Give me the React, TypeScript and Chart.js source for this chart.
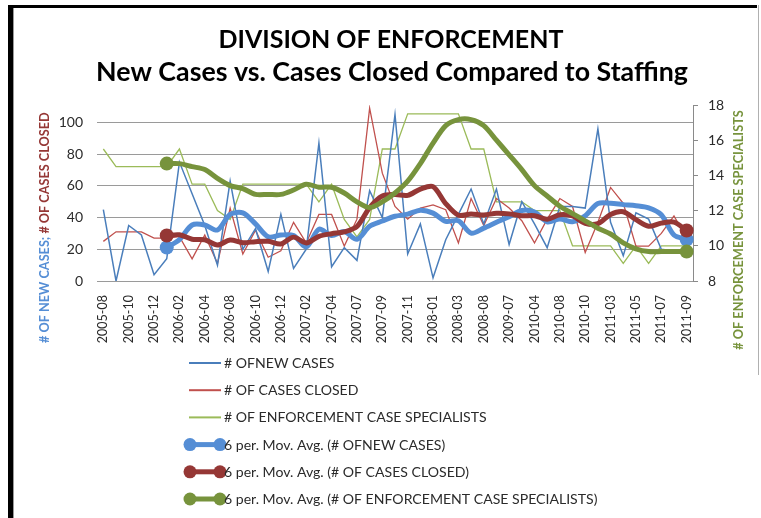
import { useEffect, useRef } from 'react';
import { Chart, registerables } from 'chart.js';

Chart.register(...registerables);

// ---- data ----
const categories = [
  '2005-08', '2005-09', '2005-10', '2005-11', '2005-12', '2006-01', '2006-02', '2006-03',
  '2006-04', '2006-06', '2006-08', '2006-09', '2006-10', '2006-11', '2006-12', '2007-01',
  '2007-02', '2007-03', '2007-04', '2007-05', '2007-07', '2007-08', '2007-09', '2007-10',
  '2007-11', '2007-12', '2008-01', '2008-02', '2008-03', '2008-05', '2008-08', '2009-01',
  '2009-07', '2010-01', '2010-04', '2010-06', '2010-08', '2010-09', '2010-10', '2011-01',
  '2011-03', '2011-04', '2011-05', '2011-06', '2011-07', '2011-08', '2011-09',
];

const newCases = [
  45, 0, 35, 29, 4, 14, 75, 55, 35, 10, 63, 20, 33, 6, 42, 8,
  20, 87, 9, 21, 13, 57, 40, 105, 17, 36, 2, 26, 42, 58, 36, 58,
  23, 50, 36, 21, 47, 47, 46, 96, 37, 16, 43, 39, 20, 19, 20,
];

const casesClosed = [
  25, 31, 31, 31, 27, 27, 28, 14, 29, 11, 46, 17, 32, 15, 19, 37,
  24, 42, 42, 22, 39, 109, 68, 47, 39, 46, 48, 45, 24, 52, 35, 52,
  46, 38, 24, 39, 52, 47, 18, 37, 59, 49, 22, 22, 30, 41, 27,
];

const specialists = [
  15.5, 14.5, 14.5, 14.5, 14.5, 14.5, 15.5, 13.5, 13.5, 12, 11.5, 13.5, 13.5, 13.5, 13.5, 13.5,
  13.5, 12.5, 13.5, 11.5, 10.5, 11.5, 15.5, 15.5, 17.5, 17.5, 17.5, 17.5, 17.5, 15.5, 15.5, 12.5,
  12.5, 12.5, 12, 12, 12, 10, 10, 10, 10, 9, 10, 9, 10, 10, 10,
];

// 6-period moving average trendlines (values as shown in the chart)
const newCasesAvg6 = [
  null, null, null, null, null, 21.17, 26.17, 35.33, 35.33, 32.17, 42, 43, 36, 27.83, 29, 28.67,
  21.5, 32.67, 28.67, 31.17, 26.33, 34.5, 37.83, 40.83, 42.17, 44.67, 42.83, 37.67, 38, 30.17, 33.33, 37,
  40.5, 44.5, 43.5, 37.33, 39.17, 37.33, 41.17, 48.83, 49, 48.17, 47.5, 46.17, 41.83, 29, 26.17,
];

const casesClosedAvg6 = [
  null, null, null, null, null, 28.67, 29.17, 26.33, 26, 22.67, 25.83, 24.17, 24.83, 25, 23.33, 27.67,
  24, 28.17, 29.83, 31, 34.33, 46.33, 53.67, 54.5, 54, 58, 59.5, 48.83, 41.5, 42.33, 41.67, 42.67,
  42.33, 41.17, 41.17, 39, 41.83, 41, 36.33, 36.17, 42, 43.67, 38.67, 34.5, 36.5, 37.17, 31.83,
];

const specialistsAvg6 = [
  null, null, null, null, null, 14.67, 14.67, 14.5, 14.33, 13.83, 13.42, 13.25, 12.92, 12.92, 12.92, 13.17,
  13.5, 13.33, 13.33, 13, 12.5, 12.17, 12.5, 13, 13.67, 14.67, 15.83, 16.83, 17.17, 17.17, 16.83, 16,
  15.17, 14.33, 13.42, 12.83, 12.25, 11.83, 11.42, 11, 10.67, 10.17, 9.83, 9.67, 9.67, 9.67, 9.67,
];

const leftTicks = [0, 20, 40, 60, 80, 100];
const rightMin = 8;
const rightMax = 18;

const seriesLabels = [
  '# OFNEW CASES',
  '# OF CASES CLOSED',
  '# OF ENFORCEMENT CASE SPECIALISTS',
  '6 per. Mov. Avg. (# OFNEW CASES)',
  '6 per. Mov. Avg. (# OF CASES CLOSED)',
  '6 per. Mov. Avg. (# OF ENFORCEMENT CASE SPECIALISTS)',
];

const titleLines = ['DIVISION OF ENFORCEMENT', 'New Cases vs. Cases Closed Compared to Staffing'];
const leftTitleParts = ['# OF NEW CASES;', ' # OF CASES CLOSED'];
const rightTitle = '# OF ENFORCEMENT CASE SPECIALISTS';

// ---- styles ----
const FONT = "Lato, 'Open Sans', 'Liberation Sans', sans-serif";
const C_BLUE = '#4A7EBB';
const C_RED = '#C0504D';
const C_GREEN = '#9BBB59';
const C_BLUE_MA = '#558ED5';
const C_RED_MA = '#953735';
const C_GREEN_MA = '#77933C';
const TEXT = '#2b2b2b';

const fitSize = (ctx: CanvasRenderingContext2D, text: string, weight: string, target: number, max: number) => {
  ctx.font = `${weight} 100px ${FONT}`;
  const w = ctx.measureText(text).width;
  return Math.min(max, (100 * target) / w);
};

const overlayPlugin = {
  id: 'overlay',
  beforeDraw(chart: any) {
    const ctx = chart.ctx as CanvasRenderingContext2D;
    ctx.save();
    ctx.fillStyle = '#ffffff';
    ctx.fillRect(0, 0, chart.width, chart.height);
    ctx.restore();
  },
  afterDraw(chart: any) {
    const ctx = chart.ctx as CanvasRenderingContext2D;
    ctx.save();

    // frame
    ctx.fillStyle = '#000000';
    ctx.fillRect(8, 5, 749, 3);
    ctx.fillRect(8, 5, 5, chart.height - 5);
    ctx.fillStyle = '#9a9a9a';
    ctx.fillRect(13, 8, 1, chart.height - 8);
    ctx.strokeStyle = '#b0b0b0';
    ctx.lineWidth = 1;
    ctx.beginPath();
    ctx.moveTo(758.5, 5);
    ctx.lineTo(758.5, 375);
    ctx.stroke();

    // title
    ctx.fillStyle = '#000000';
    ctx.textAlign = 'center';
    ctx.textBaseline = 'middle';
    const t1 = fitSize(ctx, titleLines[0], 'bold', 345, 30);
    ctx.font = `bold ${t1}px ${FONT}`;
    ctx.fillText(titleLines[0], 391, 40);
    const t2 = fitSize(ctx, titleLines[1], 'bold', 592, 30);
    ctx.font = `bold ${t2}px ${FONT}`;
    ctx.fillText(titleLines[1], 392, 72);

    // left axis title (two colours)
    const full = leftTitleParts.join('');
    const ls = fitSize(ctx, full, 'bold', 231, 16);
    ctx.font = `bold ${ls}px ${FONT}`;
    ctx.save();
    ctx.translate(45, 343);
    ctx.rotate(-Math.PI / 2);
    ctx.textAlign = 'left';
    ctx.textBaseline = 'middle';
    ctx.fillStyle = C_BLUE_MA;
    ctx.fillText(leftTitleParts[0], 0, 0);
    const w0 = ctx.measureText(leftTitleParts[0]).width;
    ctx.fillStyle = C_RED_MA;
    ctx.fillText(leftTitleParts[1], w0, 0);
    ctx.restore();

    // right axis title
    const rs = fitSize(ctx, rightTitle, 'bold', 240, 16);
    ctx.font = `bold ${rs}px ${FONT}`;
    ctx.save();
    ctx.translate(739, 230);
    ctx.rotate(-Math.PI / 2);
    ctx.textAlign = 'center';
    ctx.textBaseline = 'middle';
    ctx.fillStyle = C_GREEN_MA;
    ctx.fillText(rightTitle, 0, 0);
    ctx.restore();

    // legend (one entry per row)
    const ds = chart.data.datasets;
    const lsz = fitSize(ctx, seriesLabels[5], 'normal', 374, 16);
    [0, 1, 2, 3, 4, 5].forEach((k, row) => {
      const d = ds[k];
      const y = 363 + row * 27.2;
      const isMA = k >= 3;
      ctx.strokeStyle = d.borderColor;
      ctx.lineWidth = isMA ? 5 : 2;
      ctx.lineCap = 'butt';
      ctx.beginPath();
      ctx.moveTo(isMA ? 190 : 189, y);
      ctx.lineTo(isMA ? 220 : 221, y);
      ctx.stroke();
      if (isMA) {
        ctx.fillStyle = d.borderColor;
        [190, 220].forEach((x) => {
          ctx.beginPath();
          ctx.arc(x, y, 6.5, 0, Math.PI * 2);
          ctx.fill();
        });
      }
      ctx.fillStyle = TEXT;
      ctx.font = `${lsz}px ${FONT}`;
      ctx.textAlign = 'left';
      ctx.textBaseline = 'middle';
      ctx.fillText(d.label, 224, y + 0.5);
    });

    ctx.restore();
  },
};

const markerAtEnds = (ctx: any) => {
  const i = ctx.dataIndex;
  return i === 5 || i === categories.length - 1 ? 7 : 0;
};

export default function App() {
  const ref = useRef<HTMLCanvasElement>(null);

  useEffect(() => {
    document.body.style.margin = '0';
    const canvas = ref.current;
    if (!canvas) return;

    const thin = (label: string, data: number[], color: string, axis: string, order: number, width: number) => ({
      label,
      data,
      yAxisID: axis,
      borderColor: color,
      backgroundColor: color,
      borderWidth: width,
      pointRadius: 0,
      pointHoverRadius: 0,
      tension: 0,
      fill: false,
      order,
    });
    const ma = (label: string, data: (number | null)[], color: string, axis: string, order: number) => ({
      label,
      data,
      yAxisID: axis,
      borderColor: color,
      backgroundColor: color,
      pointBackgroundColor: color,
      pointBorderColor: color,
      borderWidth: 5,
      pointRadius: markerAtEnds,
      pointHoverRadius: markerAtEnds,
      pointBorderWidth: 0,
      borderCapStyle: 'round',
      borderJoinStyle: 'round',
      tension: 0.3,
      fill: false,
      spanGaps: false,
      order,
    });

    const chart = new Chart(canvas, {
      type: 'line',
      data: {
        labels: categories,
        datasets: [
          thin(seriesLabels[0], newCases, C_BLUE, 'y', 3, 1.5),
          thin(seriesLabels[1], casesClosed, C_RED, 'y', 4, 1.3),
          thin(seriesLabels[2], specialists, C_GREEN, 'y1', 5, 1.3),
          ma(seriesLabels[3], newCasesAvg6, C_BLUE_MA, 'y', 2),
          ma(seriesLabels[4], casesClosedAvg6, C_RED_MA, 'y', 1),
          ma(seriesLabels[5], specialistsAvg6, C_GREEN_MA, 'y1', 0),
        ] as any,
      },
      options: {
        responsive: false,
        animation: false,
        events: [],
        layout: { padding: { top: 105, left: 0, right: 0, bottom: 0 } },
        plugins: {
          legend: { display: false },
          title: { display: false },
          tooltip: { enabled: false },
        },
        scales: {
          x: {
            type: 'category',
            offset: true,
            grid: { display: false, drawTicks: false },
            border: { display: false },
            ticks: {
              autoSkip: false,
              minRotation: 90,
              maxRotation: 90,
              padding: 14,
              color: TEXT,
              font: { family: FONT, size: 12.5 },
              callback: (_v: any, i: number) => (i % 2 === 0 ? categories[i] : ''),
            },
            afterFit: (scale: any) => {
              scale.height = 237;
            },
          },
          y: {
            type: 'linear',
            position: 'left',
            min: 0,
            max: 111,
            grid: { color: '#9a9a9a', lineWidth: 1, drawTicks: false },
            border: { display: false },
            ticks: {
              padding: 14,
              color: TEXT,
              font: { family: FONT, size: 14 },
            },
            afterBuildTicks: (scale: any) => {
              scale.ticks = leftTicks.map((v) => ({ value: v }));
            },
            afterFit: (scale: any) => {
              scale.width = 97;
            },
          },
          y1: {
            type: 'linear',
            position: 'right',
            min: rightMin,
            max: rightMax,
            grid: { drawOnChartArea: false, drawTicks: true, tickLength: 5, color: '#8a8a8a' },
            border: { display: true, color: '#8a8a8a' },
            ticks: {
              stepSize: 1,
              padding: 10,
              color: TEXT,
              font: { family: FONT, size: 14 },
            },
            afterFit: (scale: any) => {
              scale.width = 68;
            },
          },
        },
      } as any,
      plugins: [overlayPlugin],
    });

    return () => chart.destroy();
  }, []);

  return (
    <canvas
      ref={ref}
      width={761}
      height={518}
      style={{ display: 'block', width: 761, height: 518 }}
    />
  );
}
